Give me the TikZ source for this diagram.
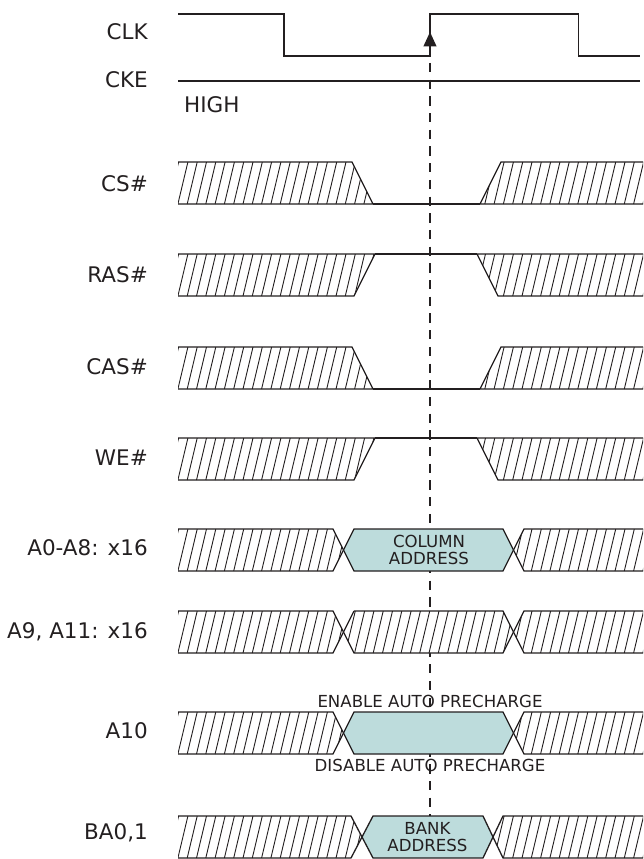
\documentclass[tikz,border=0pt]{standalone}
\usepackage{fontspec}
\setmainfont{DejaVu Sans}
\usetikzlibrary{arrows.meta}

\newcommand{\hatchzone}[1]{%
  \fill[white] #1 -- cycle;
  \begin{scope}
    \clip #1 -- cycle;
    \foreach \hx in {150,159.3,...,660}
      \draw[hatch] (\hx,42) -- ++(10,-42);
  \end{scope}
  \draw[sig] #1;%
}

\begin{document}
\begin{tikzpicture}[x=1pt, y=-1pt,
  sig/.style={draw=inkgray, line width=1.3pt, line join=miter},
  hatch/.style={draw=inkgray, line width=0.9pt},
  busbox/.style={sig, fill=boxteal},
  signame/.style={anchor=base east, text=inkgray, inner sep=0pt, font=\fontsize{21.5}{24}\selectfont},
  boxtext/.style={align=center, text=inkgray, inner sep=0pt, font=\fontsize{16.6}{16.7}\selectfont},
  clkref/.style={draw=inkgray, line width=1.2pt, dash pattern=on 9.3pt off 7.4pt, {Triangle[length=14.5pt,width=13pt]}-}]
	\definecolor{boxteal}{RGB}{189,220,220}
	\definecolor{inkgray}{RGB}{35,31,32}
	\useasboundingbox (0,0) rectangle (643,859);
	\coordinate (tip) at (430,32);
	\coordinate (bank) at (430,816);
	\draw[clkref] (tip) -- (bank);
	\node[signame] (lclk) at (148,39.5) {CLK};
	\node[signame] (lcke) at (148,87.5) {CKE};
	\node[signame] (lcs) at (148,191.5) {CS\#};
	\node[signame] (lras) at (148,282.5) {RAS\#};
	\node[signame] (lcas) at (148,374.5) {CAS\#};
	\node[signame] (lwe) at (148,465.5) {WE\#};
	\node[signame] (lalo) at (148,555.5) {A0-A8: x16};
	\node[signame] (lahi) at (148,638.5) {A9, A11: x16};
	\node[signame] (lap) at (148,738.5) {A10};
	\node[signame] (lba) at (148,839.5) {BA0,1};
	\draw[sig] (178,14) -- (284,14) -- (284,56) -- (430,56) -- (430,14) -- (578.5,14) -- (578.5,56) -- (640,56);
	\draw[sig] (178,81) -- (640,81);
	\node[signame, anchor=base west] (high) at (184,112.5) {HIGH};
	\begin{scope}[shift={(0,162)}]
		\hatchzone{(178,0) -- (352,0) -- (373,42) -- (178,42)}
		\draw[sig] (373,42) -- (480,42);
		\hatchzone{(643,0) -- (501,0) -- (480,42) -- (643,42)}
	\end{scope}
	\begin{scope}[shift={(0,254)}]
		\hatchzone{(178,42) -- (354,42) -- (375,0) -- (178,0)}
		\draw[sig] (375,0) -- (477,0);
		\hatchzone{(643,42) -- (498,42) -- (477,0) -- (643,0)}
	\end{scope}
	\begin{scope}[shift={(0,347)}]
		\hatchzone{(178,0) -- (352,0) -- (373,42) -- (178,42)}
		\draw[sig] (373,42) -- (480,42);
		\hatchzone{(643,0) -- (501,0) -- (480,42) -- (643,42)}
	\end{scope}
	\begin{scope}[shift={(0,438)}]
		\hatchzone{(178,42) -- (354,42) -- (375,0) -- (178,0)}
		\draw[sig] (375,0) -- (477,0);
		\hatchzone{(643,42) -- (498,42) -- (477,0) -- (643,0)}
	\end{scope}
	\begin{scope}[shift={(0,529)}]
		\hatchzone{(178,0) -- (333,0) -- (343.5,21) -- (333,42) -- (178,42)}
		\draw[busbox] (354,0) -- (503,0) -- (513.5,21) -- (503,42) -- (354,42) -- (343.5,21) -- cycle;
		\node[boxtext] (coladdr) at (429,21) {COLUMN\\ADDRESS};
		\hatchzone{(643,0) -- (524,0) -- (513.5,21) -- (524,42) -- (643,42)}
	\end{scope}
	\begin{scope}[shift={(0,611)}]
		\hatchzone{(178,0) -- (333,0) -- (343.5,21) -- (333,42) -- (178,42)}
		\hatchzone{(354,0) -- (503,0) -- (513.5,21) -- (503,42) -- (354,42) -- (343.5,21) -- (354,0)}
		\hatchzone{(643,0) -- (524,0) -- (513.5,21) -- (524,42) -- (643,42)}
	\end{scope}
	\begin{scope}[shift={(0,712)}]
		\hatchzone{(178,0) -- (333,0) -- (343.5,21) -- (333,42) -- (178,42)}
		\draw[busbox] (354,0) -- (503,0) -- (513.5,21) -- (503,42) -- (354,42) -- (343.5,21) -- cycle;
		\hatchzone{(643,0) -- (524,0) -- (513.5,21) -- (524,42) -- (643,42)}
		\node[boxtext, anchor=base] (enap) at (430,-5) {ENABLE AUTO PRECHARGE};
		\node[boxtext, anchor=base] (disap) at (430,59.7) {DISABLE AUTO PRECHARGE};
	\end{scope}
	\begin{scope}[shift={(0,816)}]
		\hatchzone{(178,0) -- (351,0) -- (362,21) -- (351,42) -- (178,42)}
		\draw[busbox] (373,0) -- (483,0) -- (493,21) -- (483,42) -- (373,42) -- (362,21) -- cycle;
		\node[boxtext] (bankaddr) at (427.5,21) {BANK\\ADDRESS};
		\hatchzone{(643,0) -- (503,0) -- (493,21) -- (503,42) -- (643,42)}
	\end{scope}
\end{tikzpicture}
\end{document}
